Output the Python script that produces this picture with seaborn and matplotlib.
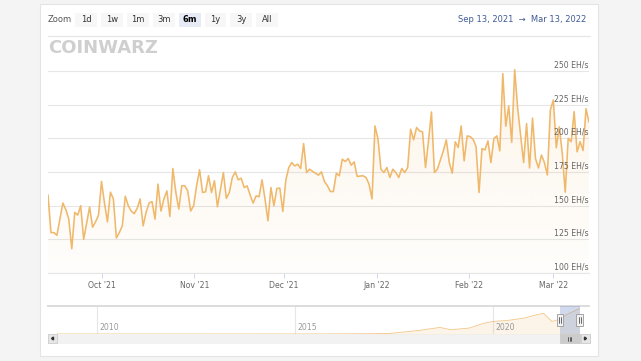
import numpy as np
import pandas as pd
import matplotlib
matplotlib.use("Agg")
import matplotlib.pyplot as plt
import matplotlib.dates as mdates
from matplotlib.patches import Rectangle, Polygon
from matplotlib.colors import to_rgb
import seaborn as sns

# ---------------- data ----------------
start_date = "2021-09-13"
end_date = "2022-03-13"
hashrate_ehs = [
    158, 130, 130, 128, 140, 152, 147, 140, 118, 145,
    143, 150, 125, 137, 149, 134, 138, 143, 168, 152,
    138, 160, 155, 126, 130, 135, 157, 150, 146, 144,
    148, 155, 135, 145, 152, 153, 140, 166, 146, 155,
    161, 142, 177.6, 160, 147.5, 164.8, 164.8, 161, 146, 150,
    165, 176.6, 159.8, 160.3, 172.2, 159.8, 168.5, 149.2, 162, 174.6,
    155.4, 159.8, 170.9, 175.1, 169.2, 170.4, 163.5, 164.7, 158, 151.9,
    157.3, 156.6, 169.2, 155, 138.8, 163.5, 149.9, 162.8, 163, 145.7,
    168.9, 178.3, 182, 179.5, 180.8, 177.6, 196.1, 174.6, 177.1, 175.5,
    174.1, 172.7, 175.1, 168, 164.8, 160.5, 160.5, 174.1, 172.2,
    184.5, 182.8, 185.0, 180.1, 182.5, 171.7, 172, 172.2, 170.9, 166.0,
    155, 209.2, 199.8, 177.1, 174.6, 178.3, 170.9, 177.1, 174.6, 170.9,
    177.6, 174.6, 178.3, 206.8, 198.9, 208.0, 205.5, 204.8, 178.3, 198.1,
    219.6, 174.6, 177.1, 184, 190.7, 198.9, 182.0, 174.1, 197.4, 193.2,
    209.2, 183.3, 201.8, 201.3, 199.3, 193.9, 159.8, 192.4, 191.4, 198.1,
    182.0, 199.8, 201.8, 190.7,
    248, 209, 224, 197, 251, 222.5, 202, 182, 211, 178,
    215, 185, 178, 187.6, 182, 172.8, 221, 228.5, 193, 208.6,
    189, 160, 200, 197.5, 219.8, 190, 197.5, 191, 222, 212,
]
y_ticks = [100, 125, 150, 175, 200, 225, 250]
y_unit = "EH/s"
month_ticks = ["2021-10-01", "2021-11-01", "2021-12-01",
               "2022-01-01", "2022-02-01", "2022-03-01"]
month_labels = ["Oct '21", "Nov '21", "Dec '21", "Jan '22", "Feb '22", "Mar '22"]
zoom_buttons = ["1d", "1w", "1m", "3m", "6m", "1y", "3y", "All"]
selected_button = "6m"
range_from = "Sep 13, 2021"
range_to = "Mar 13, 2022"
brand = "COINWARZ"

nav_dates = ["2009-01-03", "2010-01-01", "2012-01-01", "2014-01-01", "2015-01-01",
             "2016-01-01", "2017-01-01", "2017-06-01", "2018-03-01", "2018-09-01",
             "2018-12-15", "2019-06-01", "2019-10-15", "2020-01-01", "2020-05-15",
             "2020-10-15", "2021-02-01", "2021-04-15", "2021-07-01", "2021-09-13",
             "2021-11-15", "2022-01-15", "2022-03-13"]
nav_values = [0, 0, 0, 0.1, 0.35,
              0.8, 2.5, 5, 30, 54,
              35, 49, 89, 103, 111,
              130, 156, 170, 103, 122,
              160, 185, 210]
nav_years = ["2010-01-01", "2015-01-01", "2020-01-01"]
nav_year_labels = ["2010", "2015", "2020"]

# ---------------- style ----------------
W, H = 641, 361
LINE = "#f0b86a"
GRID = "#e6e6e6"
LABEL = "#666666"

sns.set_theme(style="white")
plt.rcParams["font.family"] = ["DejaVu Sans"]

fig = plt.figure(figsize=(W / 100, H / 100), dpi=100)
fig.patch.set_facecolor("#f4f4f4")


def fx(px):
    return px / W


def fy(py):
    return 1 - py / H


def rect(x0, y0, x1, y1, fc, ec="none", lw=0.6, z=-5):
    r = Rectangle((fx(x0), fy(y1)), fx(x1) - fx(x0), fy(y0) - fy(y1),
                  transform=fig.transFigure, facecolor=fc, edgecolor=ec,
                  linewidth=lw, zorder=z)
    fig.add_artist(r)
    return r


# card
rect(40, 4, 598, 356, "white", ec="#e4e4e4", lw=0.8, z=-10)

# zoom buttons row
fig.text(fx(48), fy(20), "Zoom", ha="left", va="center", fontsize=6,
         color="#555555", zorder=2)
bx0, bstep, bw = 75, 25.9, 22
for i, lab in enumerate(zoom_buttons):
    x0 = bx0 + i * bstep
    sel = lab == selected_button
    rect(x0, 13, x0 + bw, 27, "#e6ebf5" if sel else "#f7f7f7", z=-4)
    fig.text(fx(x0 + bw / 2), fy(20), lab, ha="center", va="center",
             fontsize=6, color="#000000" if sel else "#333333",
             fontweight="bold" if sel else "normal", zorder=2)

fig.text(fx(586), fy(19.5), f"{range_from}  \u2192  {range_to}", ha="right",
         va="center", fontsize=6, color="#3e5a94", zorder=2)

# separator
fig.add_artist(plt.Line2D([fx(48), fx(590)], [fy(36), fy(36)],
                          transform=fig.transFigure, color=GRID, lw=0.9, zorder=-4))

# brand watermark
fig.text(fx(48), fy(48), brand, ha="left", va="center", fontsize=13,
         fontweight="heavy", color="#cfcfcf", zorder=2)

# ---------------- main chart ----------------
dates = pd.date_range(start_date, end_date, periods=len(hashrate_ehs))
df = pd.DataFrame({"date": dates, "hashrate": hashrate_ehs})

ax = fig.add_axes([fx(48), fy(273), fx(589) - fx(48), fy(62) - fy(273)])
ax.set_facecolor("white")
ymin = y_ticks[0]
ymax = ymin + (273 - 62) / ((273 - 71) / (y_ticks[-1] - y_ticks[0]))

fill = ax.fill_between(df["date"], df["hashrate"], ymin, facecolor="none",
                       edgecolor="none")
grad = np.zeros((256, 1, 4))
grad[..., :3] = to_rgb(LINE)
grad[:, 0, 3] = np.linspace(0.02, 0.15, 256)
xmin_n, xmax_n = mdates.date2num(dates[0]), mdates.date2num(dates[-1])
im = ax.imshow(grad, extent=[xmin_n, xmax_n, ymin, max(hashrate_ehs)],
               origin="lower", aspect="auto", zorder=1, interpolation="bilinear")
im.set_clip_path(fill.get_paths()[0], ax.transData)

sns.lineplot(data=df, x="date", y="hashrate", ax=ax, color=LINE,
             linewidth=1.15, zorder=3)

ax.set_xlim(dates[0], dates[-1])
ax.set_ylim(ymin, ymax)
ax.set_xlabel("")
ax.set_ylabel("")
ax.set_yticks(y_ticks)
ax.yaxis.grid(True, color=GRID, linewidth=0.8, zorder=0)
ax.tick_params(axis="y", length=0, labelleft=False)
for v in y_ticks:
    ax.annotate(f"{v} {y_unit}", xy=(1, v), xycoords=("axes fraction", "data"),
                xytext=(0, 1), textcoords="offset points", ha="right",
                va="bottom", fontsize=5.6, color=LABEL, zorder=10)
ax.set_xticks(pd.to_datetime(month_ticks))
ax.set_xticklabels(month_labels)
ax.tick_params(axis="x", length=3.6, width=0.7, color="#ccd6eb",
               labelsize=5.6, labelcolor=LABEL, pad=2.2, bottom=True)
for s in ["top", "left", "right"]:
    ax.spines[s].set_visible(False)
ax.spines["bottom"].set_color(GRID)
ax.spines["bottom"].set_linewidth(0.8)

# ---------------- navigator ----------------
nav_df = pd.DataFrame({"date": pd.to_datetime(nav_dates), "value": nav_values})
nav = fig.add_axes([fx(48), fy(334), fx(589) - fx(48), fy(306) - fy(334)])
nav.set_facecolor("white")
nav.fill_between(nav_df["date"], nav_df["value"], 0, color=LINE, alpha=0.15,
                 linewidth=0, zorder=2)
sns.lineplot(data=nav_df, x="date", y="value", ax=nav, color=LINE,
             linewidth=0.6, alpha=0.8, zorder=3)
nav.set_xlim(pd.Timestamp("2008-10-10"), pd.Timestamp("2022-06-08"))
nav.set_ylim(0, 230)
nav.set_xlabel("")
nav.set_ylabel("")
nav.set_xticks([])
nav.set_yticks([])
for d, lab in zip(pd.to_datetime(nav_years), nav_year_labels):
    nav.axvline(d, color=GRID, linewidth=0.8, zorder=1)
    nav.annotate(lab, xy=(d, 0), xycoords=("data", "axes fraction"),
                 xytext=(2, 1.8), textcoords="offset points", ha="left",
                 va="bottom", fontsize=5.6, color="#999999", zorder=4)
for s in ["left", "right", "bottom"]:
    nav.spines[s].set_visible(False)
nav.spines["top"].set_color("#d9d9d9")
nav.spines["top"].set_linewidth(1.3)

sel0, sel1 = pd.Timestamp(start_date), pd.Timestamp(end_date)
nav.axvspan(sel0, sel1, color=(102 / 255, 133 / 255, 194 / 255, 0.3),
            linewidth=0, zorder=4)

# pixel positions of selection edges
fig.canvas.draw()
inv = fig.transFigure.inverted()
px0 = inv.transform(nav.transData.transform((mdates.date2num(sel0), 0)))[0] * W
px1 = inv.transform(nav.transData.transform((mdates.date2num(sel1), 0)))[0] * W

# handles
for hx in (px0, px1):
    rect(hx - 3.3, 314, hx + 3.3, 326, "#f2f2f2", ec="#999999", lw=0.6, z=6)
    for dx in (-1, 1):
        fig.add_artist(plt.Line2D([fx(hx + dx), fx(hx + dx)], [fy(317), fy(323)],
                                  transform=fig.transFigure, color="#333333",
                                  lw=0.5, zorder=7))

# scrollbar
rect(48, 334, 590, 343, "#f2f2f2", ec="#f2f2f2", z=-3)
rect(48, 334, 57, 343, "#e6e6e6", ec="#cccccc", lw=0.6, z=-2)
rect(581, 334, 590, 343, "#e6e6e6", ec="#cccccc", lw=0.6, z=-2)
rect(px0, 334, px1, 343, "#cccccc", ec="#cccccc", lw=0.6, z=-2)
fig.add_artist(Polygon([[fx(51.5), fy(338.5)], [fx(53.5), fy(337)], [fx(53.5), fy(340)]],
                       closed=True, transform=fig.transFigure, color="#333333", zorder=-1))
fig.add_artist(Polygon([[fx(586.5), fy(338.5)], [fx(584.5), fy(337)], [fx(584.5), fy(340)]],
                       closed=True, transform=fig.transFigure, color="#333333", zorder=-1))
cx = (px0 + px1) / 2
for dx in (-1.5, 0, 1.5):
    fig.add_artist(plt.Line2D([fx(cx + dx), fx(cx + dx)], [fy(336.5), fy(340.5)],
                              transform=fig.transFigure, color="#333333",
                              lw=0.5, zorder=-1))

fig.savefig("out.png", dpi=100, facecolor=fig.get_facecolor())
